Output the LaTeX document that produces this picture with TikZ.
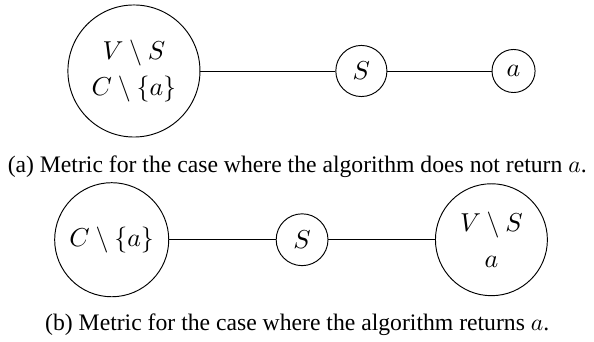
\documentclass[tikz,border=0pt,11pt]{standalone}
\usepackage{fontspec}
\setmainfont{Liberation Serif}
\usetikzlibrary{positioning}
\tikzset{
  v/.style={circle,draw,inner sep=1pt,align=center,font=\fontsize{11}{15.5}\selectfont},
  captext/.style={font=\small,anchor=base},
}

\begin{document}
\begin{tikzpicture}
  \useasboundingbox (0,0) rectangle (251pt,-144.1pt);
  % (a) algorithm does not return a
  \node[v,minimum size=55.8pt] (vs1) at (56.6pt,-30pt) {$V\setminus S$\\$C\setminus\{a\}$};
  \node[v,minimum size=21.6pt,right=57pt of vs1] (s1) {$S$};
  \node[v,minimum size=18.2pt,right=44pt of s1] (a1) {$a$};
  \draw (vs1) -- (s1) -- (a1);
  \node[captext] (capa) at (125.6pt,-72.7pt) {(a) Metric for the case where the algorithm does not return $a$.};
  % (b) algorithm returns a
  \node[v,minimum size=48.2pt] (ca2) at (47.2pt,-101.3pt) {$C\setminus\{a\}$};
  \node[v,minimum size=21.9pt,right=45pt of ca2] (s2) {$S$};
  \node[v,minimum size=47.3pt,right=45pt of s2] (vs2) {$V\setminus S$\\$a$};
  \draw (ca2) -- (s2) -- (vs2);
  \node[captext] (capb) at (125.6pt,-139.8pt) {(b) Metric for the case where the algorithm returns $a$.};
\end{tikzpicture}
\end{document}
